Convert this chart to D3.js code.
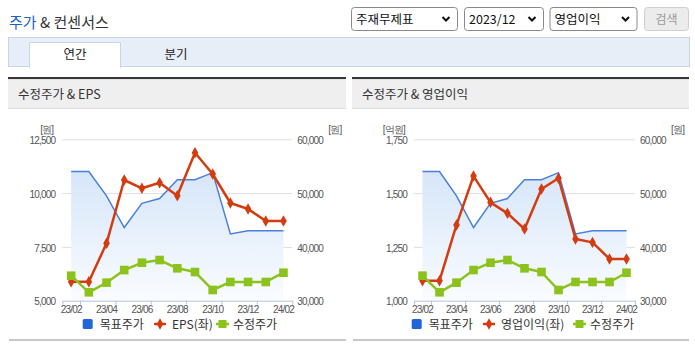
<!DOCTYPE html>
<html><head><meta charset="utf-8">
<script src="https://cdn.jsdelivr.net/npm/d3@7/dist/d3.min.js"></script>
<style>
html,body{margin:0;padding:0;background:#fff;}
svg{display:block;}
text{font-family:"Noto Sans CJK KR","Noto Sans",sans-serif;}
.num{font-family:"Liberation Sans",Arial,sans-serif;font-size:10px;letter-spacing:-0.8px;fill:#555;}
</style></head>
<body>
<svg id="c" width="695" height="349"></svg>
<script>
// ---- data ----
const months = ["23/02","23/03","23/04","23/05","23/06","23/07","23/08","23/09","23/10","23/11","23/12","24/01","24/02"];
const targetPrice = [54000,54000,49500,43600,48100,49000,52500,52500,53800,42400,43000,43000,43000];
const adjPrice = [34650,31560,33350,35700,37060,37560,36020,35330,31990,33480,33480,33480,35200];
const eps = [5883,5883,7667,10609,10223,10483,9879,11877,10887,9540,9261,8703,8703];
const opIncome = [1093,1093,1352,1579,1457,1406,1333,1519,1569,1287,1271,1194,1194];
const epsTicks = [5000,7500,10000,12500];
const opTicks = [1000,1250,1500,1750];
const priceTicks = [30000,40000,50000,60000];
const selects = ["주재무제표","2023/12","영업이익"];
const tabs = ["연간","분기"];

const svg = d3.select("#c");
const defs = svg.append("defs");
const grad = defs.append("linearGradient").attr("id","ag").attr("x1",0).attr("y1",0).attr("x2",0).attr("y2",1);
grad.append("stop").attr("offset","0%").attr("stop-color","#d6e6f9");
grad.append("stop").attr("offset","100%").attr("stop-color","#fafcff");

// ---- header ----
const title = svg.append("text").attr("x",9).attr("y",27.5).style("font-size","15px").style("fill","#333");
title.append("tspan").text("주가").style("fill","#1f5fc8");
title.append("tspan").text(" & 컨센서스");

const selBoxes = [[351,106],[464,79],[549.5,87]];
selBoxes.forEach((b,i)=>{
  svg.append("rect").attr("x",b[0]+0.5).attr("y",7.5).attr("width",b[1]).attr("height",23).attr("rx",3)
    .attr("fill","#fff").attr("stroke","#8a8a8a");
  svg.append("text").attr("x",b[0]+5).attr("y",24).text(selects[i])
    .style("font-size","12.5px").style("fill","#111");
  const cx = b[0]+b[1]-11;
  svg.append("path").attr("d",`M${cx-3.5},${17}L${cx},${20.5}L${cx+3.5},${17}`)
    .attr("fill","none").attr("stroke","#111").attr("stroke-width",2);
});
svg.append("rect").attr("x",644.5).attr("y",7.5).attr("width",44).attr("height",23).attr("rx",3)
  .attr("fill","#ececec").attr("stroke","#cfcfcf");
svg.append("text").attr("x",666.5).attr("y",24).attr("text-anchor","middle").text("검색")
  .style("font-size","12px").style("fill","#9a9a9a");

// tabs
svg.append("rect").attr("x",8.5).attr("y",37.5).attr("width",681).attr("height",29)
  .attr("fill","#e8eef8").attr("stroke","#c9d5e8");
svg.append("rect").attr("x",29.5).attr("y",42.5).attr("width",91).attr("height",25)
  .attr("fill","#fff").attr("stroke","#c9d5e8");
svg.append("rect").attr("x",30).attr("y",65).attr("width",90).attr("height",3).attr("fill","#fff");
svg.append("text").attr("x",75).attr("y",59).attr("text-anchor","middle").text(tabs[0]).style("font-size","12.5px").style("fill","#222");
svg.append("text").attr("x",176).attr("y",59).attr("text-anchor","middle").text(tabs[1]).style("font-size","12.5px").style("fill","#222");

// ---- panels ----
function panel(px, pw, label, x0, x1, leftVals, leftTicks, leftUnit, leftName, lg){
  svg.append("rect").attr("x",px).attr("y",77).attr("width",pw).attr("height",2.3).attr("fill","#363636");
  svg.append("rect").attr("x",px).attr("y",79.3).attr("width",pw).attr("height",29).attr("fill","#efefef");
  svg.append("rect").attr("x",px).attr("y",108).attr("width",pw).attr("height",1).attr("fill","#dcdcdc");
  svg.append("text").attr("x",px+10).attr("y",99).text(label).style("font-size","12.5px").style("fill","#333");
  svg.append("rect").attr("x",px+1).attr("y",339).attr("width",pw-1).attr("height",2).attr("fill","#c8c8c8");

  const yTop = 139.3, yBot = 300.7;
  const x = d3.scaleBand().domain(months).range([x0,x1]);
  const bw = x.bandwidth();
  const cx = m => x(m)+bw/2;
  const yL = d3.scaleLinear().domain([leftTicks[0],leftTicks[leftTicks.length-1]]).range([yBot,yTop]);
  const yR = d3.scaleLinear().domain([priceTicks[0],priceTicks[priceTicks.length-1]]).range([yBot,yTop]);

  // grid
  const grid = svg.append("g").attr("transform",`translate(${x0},0)`)
    .call(d3.axisLeft(yL).tickValues(leftTicks.slice(1)).tickSize(-(x1-x0)).tickFormat(""));
  grid.select(".domain").remove();
  grid.selectAll("line").attr("stroke","#dedede");

  // left labels
  const gl = svg.append("g").attr("transform",`translate(${x0-5},0)`)
    .call(d3.axisLeft(yL).tickValues(leftTicks).tickSize(0).tickPadding(2).tickFormat(d3.format(",")));
  gl.select(".domain").remove();
  gl.selectAll("text").attr("class","num").attr("font-family",null).attr("font-size",null).attr("dy","0.42em");
  const gr = svg.append("g").attr("transform",`translate(${x1+3},0)`)
    .call(d3.axisRight(yR).tickValues(priceTicks).tickSize(0).tickPadding(2).tickFormat(d3.format(",")));
  gr.select(".domain").remove();
  gr.selectAll("text").attr("class","num").attr("font-family",null).attr("font-size",null).attr("dy","0.42em");

  svg.append("text").attr("class","num").attr("x",x0-9).attr("y",132.5).attr("text-anchor","end").text(leftUnit);
  svg.append("text").attr("class","num").attr("x",x1+36).attr("y",132.5).attr("text-anchor","start").text("[원]");

  // area + target line
  const area = d3.area().x((d,i)=>cx(months[i])).y0(yBot).y1(d=>yR(d));
  svg.append("path").datum(targetPrice).attr("d",area).attr("fill","url(#ag)");
  const line = d3.line().x((d,i)=>cx(months[i]));
  svg.append("path").datum(targetPrice).attr("d",line.y(d=>yR(d))).attr("fill","none")
    .attr("stroke","#4a80dc").attr("stroke-width",1.5);

  // x axis: tick marks at band boundaries, labels at band centres
  const tickPos = [x0].concat(months.filter((m,i)=>i%2===0).map(m=>x(m)+bw));
  const xs = d3.scaleLinear().domain([x0,x1]).range([x0,x1]);
  const gx = svg.append("g").attr("transform",`translate(0,${yBot})`)
    .call(d3.axisBottom(xs).tickValues(tickPos).tickSize(4).tickSizeOuter(0).tickFormat(""));
  gx.select(".domain").attr("stroke","#b9c6d8");
  gx.selectAll("line").attr("stroke","#b9c6d8");
  const gxl = svg.append("g").attr("transform",`translate(0,${yBot})`)
    .call(d3.axisBottom(x).tickValues(months.filter((m,i)=>i%2===0)).tickSize(0).tickPadding(5));
  gxl.select(".domain").remove();
  gxl.selectAll("text").attr("class","num").attr("font-family",null).attr("font-size",null);

  // left series (red)
  svg.append("path").datum(leftVals).attr("d",d3.line().x((d,i)=>cx(months[i])).y(d=>yL(d)))
    .attr("fill","none").attr("stroke","#d33c10").attr("stroke-width",2.5).attr("stroke-linejoin","round");
  svg.append("g").selectAll("path").data(leftVals).join("path")
    .attr("d",d3.symbol(d3.symbolDiamond,38))
    .attr("transform",(d,i)=>`translate(${cx(months[i])},${yL(d)})`).attr("fill","#d33c10");

  // adjusted price (green)
  svg.append("path").datum(adjPrice).attr("d",d3.line().x((d,i)=>cx(months[i])).y(d=>yR(d)))
    .attr("fill","none").attr("stroke","#8cc21c").attr("stroke-width",2.5).attr("stroke-linejoin","round");
  svg.append("g").selectAll("rect").data(adjPrice).join("rect")
    .attr("x",(d,i)=>cx(months[i])-4.3).attr("y",d=>yR(d)-4.3).attr("width",8.6).attr("height",8.6)
    .attr("fill","#8cc21c");

  // legend
  const ly = 324;
  svg.append("rect").attr("x",lg[0]).attr("y",ly-5).attr("width",10).attr("height",10).attr("rx",1.5).attr("fill","#2166d8");
  svg.append("text").attr("x",lg[0]+17).attr("y",ly+4.5).text("목표주가").style("font-size","12px").style("fill","#333");
  svg.append("line").attr("x1",lg[1]).attr("x2",lg[1]+12).attr("y1",ly).attr("y2",ly).attr("stroke","#d33c10").attr("stroke-width",2.5);
  svg.append("path").attr("d",d3.symbol(d3.symbolDiamond,38)).attr("transform",`translate(${lg[1]+6},${ly})`).attr("fill","#d33c10");
  svg.append("text").attr("x",lg[1]+18).attr("y",ly+4.5).text(leftName).style("font-size","12px").style("fill","#333");
  svg.append("line").attr("x1",lg[2]).attr("x2",lg[2]+13).attr("y1",ly).attr("y2",ly).attr("stroke","#8cc21c").attr("stroke-width",2.5);
  svg.append("rect").attr("x",lg[2]+2.5).attr("y",ly-4).attr("width",8).attr("height",8).attr("fill","#8cc21c");
  svg.append("text").attr("x",lg[2]+17).attr("y",ly+4.5).text("수정주가").style("font-size","12px").style("fill","#333");
}

panel(8, 338, "수정주가 & EPS", 62.3, 292.3, eps, epsTicks, "[원]", "EPS(좌)", [82.7,154,216]);
panel(352, 337, "수정주가 & 영업이익", 414, 635, opIncome, opTicks, "[억원]", "영업이익(좌)", [411.7,483,573]);
</script>
</body></html>
